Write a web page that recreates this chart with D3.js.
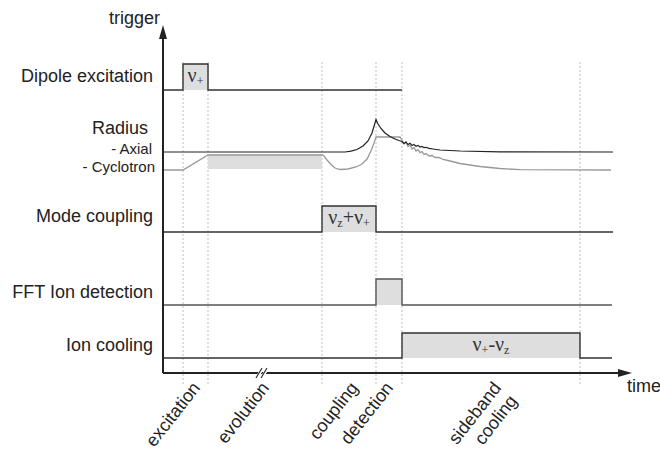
<!DOCTYPE html>
<html><head><meta charset="utf-8">
<script src="https://cdn.jsdelivr.net/npm/d3@7"></script>
<style>body{margin:0;background:#fff}svg{display:block}text{font-family:"Liberation Sans",Arial,sans-serif;fill:#222}</style>
</head><body><svg id="c" width="660" height="451"></svg>
<script>
// ---- data ----
const phaseTimes = [20, 45, 159, 213, 239, 417];            // dashed event markers (time units)
const phaseLabels = ["excitation", "evolution", "coupling", "detection", ["sideband", "cooling"]];
const phaseLabelTimes = [38, 107, 196, 231, 339];
const rowNames = ["Dipole excitation", "Mode coupling", "FFT Ion detection", "Ion cooling"];
const rowBase = [283, 141, 68, 15];                          // signal baseline level
const rowHigh = [309, 167, 94, 40];                          // pulse level
const rowLabelLevel = [297, 157, 81, 28];
const rowEnd = [239, 450, 449, 449];
const pulseStart = [20, 159, 213, 239];
const pulseEnd = [45, 213, 239, 417];
const pulseText = [["ν", "+"], ["ν", "z", "+ν", "+"], null, ["ν", "+", "-ν", "z"]];
const axialT = [0,182,188,194,200,205,209,213,215,218,222,227,232,236,239,241,243,245,247,249,251,253,255,257,259,261,263,266,270,277,297,337,450];
const axialV = [221,221,221.8,223.5,227,232,240,253.5,249,244.5,240,236.5,234,232.5,231.5,229.5,231,228.5,229.8,227.5,228.6,226.7,227.6,226,226.6,225.3,225.7,224.6,224,223,222,221.2,221];
const cycT = [0,20,45,159,161,164,168,172,177,185,193,199,204,208,211,213,237,239,241,243,245,247,249,251,253,255,257,259,261,263,266,269,272,276,280,285,297,317,337,357,448];
const cycV = [203,203,218,218,217,213,208.5,205,203.5,204,206,209,214,222,230,236,236,233,229,231,226.5,228,224,225.5,222,223.3,220.3,221.3,218.6,219.4,217,217.5,215.5,215.5,213.5,212.5,209.5,206.5,204.5,203.3,203];
const evolutionBox = [45, 159, 204, 218];                    // t0, t1, v0, v1

// ---- scales ----
const x = d3.scaleLinear().domain([0, 469]).range([163, 632]);
const y = d3.scaleLinear().domain([0, 363]).range([373, 10]);
const svg = d3.select("#c");

// dashed phase markers
svg.append("g").selectAll("line").data(phaseTimes).join("line")
  .attr("x1", d => x(d)).attr("x2", d => x(d))
  .attr("y1", y(311)).attr("y2", y(-13))
  .attr("stroke", "#bdbdbd").attr("stroke-width", 1).attr("stroke-dasharray", "2,2");

// evolution box in radius panel
svg.append("rect").attr("x", x(evolutionBox[0])).attr("width", x(evolutionBox[1]) - x(evolutionBox[0]))
  .attr("y", y(evolutionBox[3])).attr("height", y(evolutionBox[2]) - y(evolutionBox[3]))
  .attr("fill", "#dedede");

// trigger rows
const line = d3.line().x(d => x(d[0])).y(d => y(d[1]));
rowNames.forEach((name, i) => {
  svg.append("rect").attr("x", x(pulseStart[i])).attr("width", x(pulseEnd[i]) - x(pulseStart[i]))
    .attr("y", y(rowHigh[i])).attr("height", y(rowBase[i]) - y(rowHigh[i])).attr("fill", "#dedede");
  const pts = [[0, rowBase[i]], [pulseStart[i], rowBase[i]], [pulseStart[i], rowHigh[i]],
               [pulseEnd[i], rowHigh[i]], [pulseEnd[i], rowBase[i]], [rowEnd[i], rowBase[i]]];
  svg.append("path").attr("d", line(pts)).attr("fill", "none")
    .attr("stroke", i === 2 ? "#555" : "#333").attr("stroke-width", 1.4);
  svg.append("text").attr("x", 153).attr("y", y(rowLabelLevel[i]) + 6).attr("text-anchor", "end")
    .attr("font-size", 18).text(name);
  if (pulseText[i]) {
    const t = svg.append("text").attr("x", x((pulseStart[i] + pulseEnd[i]) / 2))
      .attr("y", y((rowBase[i] + rowHigh[i]) / 2) + 5).attr("text-anchor", "middle")
      .style("font-family", "'Liberation Serif','Times New Roman',serif").style("fill", "#333");
    pulseText[i].forEach((s, k) => {
      const sub = k % 2 === 1;
      t.append("tspan").attr("font-size", sub ? 12 : 20).attr("dy", sub ? 3 : (k === 0 ? 0 : -3)).text(s);
    });
  }
});

// radius panel
svg.append("text").attr("x", 148).attr("y", y(245) + 6).attr("text-anchor", "end").attr("font-size", 18).text("Radius");
svg.append("text").attr("x", 152).attr("y", y(224) + 5).attr("text-anchor", "end").attr("font-size", 15).text("- Axial");
svg.append("text").attr("x", 155).attr("y", y(206) + 5).attr("text-anchor", "end").attr("font-size", 15).text("- Cyclotron");
svg.append("path").attr("d", line(cycT.map((t, i) => [t, cycV[i]]))).attr("fill", "none")
  .attr("stroke", "#999").attr("stroke-width", 1.3);
svg.append("path").attr("d", line(axialT.map((t, i) => [t, axialV[i]]))).attr("fill", "none")
  .attr("stroke", "#222").attr("stroke-width", 1.2);

// axes
svg.append("line").attr("x1", x(0)).attr("x2", x(0)).attr("y1", y(0)).attr("y2", y(340))
  .attr("stroke", "#222").attr("stroke-width", 2);
svg.append("line").attr("x1", x(0)).attr("x2", x(460)).attr("y1", y(0)).attr("y2", y(0))
  .attr("stroke", "#222").attr("stroke-width", 2);
svg.append("path").attr("d", `M${x(0)},${y(348)} L${x(0) - 4},${y(334)} L${x(0) + 4},${y(334)} Z`).attr("fill", "#222");
svg.append("path").attr("d", `M${x(469)},${y(0)} L${x(455)},${y(0) - 4} L${x(455)},${y(0) + 4} Z`).attr("fill", "#222");
svg.append("text").attr("x", 160).attr("y", y(349)).attr("text-anchor", "end").attr("font-size", 18).text("trigger");
svg.append("text").attr("x", 627).attr("y", y(-19)).attr("font-size", 18).text("time");

// axis break mark
[0, 5].forEach(o => {
  svg.append("line").attr("x1", x(96 + o) - 2).attr("y1", y(-4)).attr("x2", x(96 + o) + 4).attr("y2", y(5))
    .attr("stroke", "#fff").attr("stroke-width", 3);
});
[0, 5].forEach(o => {
  svg.append("line").attr("x1", x(96 + o) - 3).attr("y1", y(-5)).attr("x2", x(96 + o) + 3).attr("y2", y(5))
    .attr("stroke", "#222").attr("stroke-width", 1.1);
});

// phase labels (rotated)
phaseLabels.forEach((lab, i) => {
  const lines = Array.isArray(lab) ? lab : [lab];
  lines.forEach((s, k) => {
    const px = x(phaseLabelTimes[i]) + k * 16, py = y(-15) + k * 13;
    svg.append("text").attr("transform", `translate(${px},${py}) rotate(-52)`)
      .attr("text-anchor", "end").attr("font-size", 18).text(s);
  });
});
</script></body></html>
